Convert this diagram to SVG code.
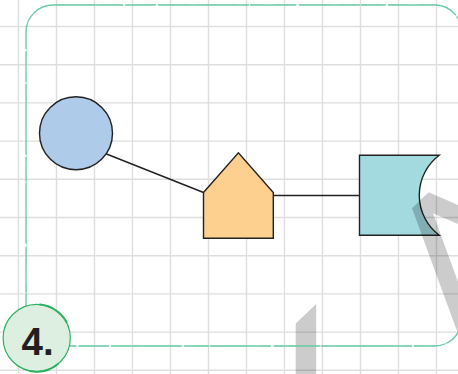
<svg xmlns="http://www.w3.org/2000/svg" width="458" height="374" viewBox="0 0 458 374">
  <style>
    .grid line { stroke: #dedede; stroke-width: 1.4; }
    .edge { stroke: #222; stroke-width: 1.4; fill: none; }
    .node { stroke: #222; stroke-width: 1.4; }
    .shade { fill: #000; fill-opacity: 0.2; }
    .frame { fill: none; stroke: #6ccba5; stroke-linecap: round; }
    .badge-text { font-family: "Liberation Sans", Arial, sans-serif; font-weight: bold; font-size: 38.5px; fill: #231f20; }
  </style>
  <rect width="458" height="374" fill="#ffffff"/>

  <!-- background grid -->
  <g class="grid">
    <line x1="18.5" y1="0" x2="18.5" y2="374"/>
    <line x1="56.5" y1="0" x2="56.5" y2="374"/>
    <line x1="94.5" y1="0" x2="94.5" y2="374"/>
    <line x1="132.5" y1="0" x2="132.5" y2="374"/>
    <line x1="170.5" y1="0" x2="170.5" y2="374"/>
    <line x1="208.5" y1="0" x2="208.5" y2="374"/>
    <line x1="246.5" y1="0" x2="246.5" y2="374"/>
    <line x1="284.5" y1="0" x2="284.5" y2="374"/>
    <line x1="322.5" y1="0" x2="322.5" y2="374"/>
    <line x1="360.5" y1="0" x2="360.5" y2="374"/>
    <line x1="398.5" y1="0" x2="398.5" y2="374"/>
    <line x1="436.5" y1="0" x2="436.5" y2="374"/>
    <line x1="0" y1="26.5" x2="458" y2="26.5"/>
    <line x1="0" y1="64.7" x2="458" y2="64.7"/>
    <line x1="0" y1="102.9" x2="458" y2="102.9"/>
    <line x1="0" y1="141.1" x2="458" y2="141.1"/>
    <line x1="0" y1="179.3" x2="458" y2="179.3"/>
    <line x1="0" y1="217.5" x2="458" y2="217.5"/>
    <line x1="0" y1="255.7" x2="458" y2="255.7"/>
    <line x1="0" y1="293.9" x2="458" y2="293.9"/>
    <line x1="0" y1="332.1" x2="458" y2="332.1"/>
    <line x1="0" y1="370.3" x2="458" y2="370.3"/>
  </g>

  <!-- connectors -->
  <g id="connectors">
    <line class="edge" x1="104" y1="153" x2="203.5" y2="192.5"/>
    <line class="edge" x1="273.5" y1="195.5" x2="359.5" y2="195.5"/>
  </g>

  <!-- nodes -->
  <g id="node-circle">
    <circle class="node" cx="76" cy="133.3" r="36.5" fill="#aecbea"/>
  </g>
  <g id="node-pentagon">
    <polygon class="node" points="203.5,192.5 238.4,152.8 273.3,192.5 273.3,238.2 203.5,238.2" fill="#fdd08f"/>
  </g>
  <g id="node-card">
    <path class="node" d="M359.5,155.3 L439.2,155.3 A50,50 0 0 0 439.2,235.2 L359.5,235.2 Z" fill="#a3dae0"/>
  </g>

  <!-- translucent shadow strokes -->
  <polygon class="shade" points="412,208.3 428.7,192.3 470,210.2 470,229.3 433,213.3 480,342 461,342"/>
  <polygon class="shade" points="295.7,323.5 316.2,304 316.2,374 295.7,374"/>

  <!-- sketchy rounded frame -->
  <rect class="frame" x="26" y="5" width="435.7" height="341" rx="27" stroke-width="1.3" stroke-dasharray="70 2.5 30 3 90 2 45 4 60 2 24 3"/>
  <rect class="frame" x="26.5" y="4.5" width="435" height="341.5" rx="27.5" stroke-width="0.7" stroke-opacity="0.5" stroke-dasharray="40 7 20 12 55 9"/>

  <!-- step badge -->
  <g id="badge">
    <circle cx="36.7" cy="338" r="33.6" fill="#dcefe1" stroke="#2fb062" stroke-width="1.2"/>
    <path d="M40,304.6 A33.6,33.6 0 0 1 66.5,322" fill="none" stroke="#2fb062" stroke-width="2" stroke-linecap="round"/>
    <path d="M58,364 A33.6,33.6 0 0 1 30,371" fill="none" stroke="#2fb062" stroke-width="1.8" stroke-linecap="round"/>
    <text class="badge-text" x="21.5" y="354.5">4.</text>
  </g>
</svg>
